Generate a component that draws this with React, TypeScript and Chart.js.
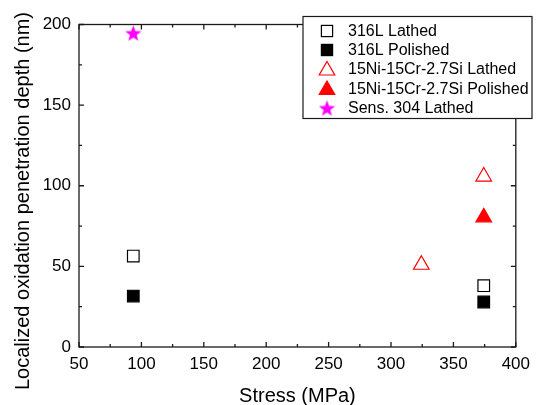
import React, { useEffect, useRef } from "react";
import { Chart, registerables } from "chart.js";
Chart.register(...registerables);

const seriesNames = [
  "316L Lathed",
  "316L Polished",
  "15Ni-15Cr-2.7Si Lathed",
  "15Ni-15Cr-2.7Si Polished",
  "Sens. 304 Lathed",
];
const lathed316X = [93.5, 374.3];
const lathed316Y = [56.4, 38.0];
const polished316X = [93.5, 374.3];
const polished316Y = [31.6, 27.9];
const lathedNiX = [324.3, 374.3];
const lathedNiY = [51.0, 105.7];
const polishedNiX = [374.3];
const polishedNiY = [80.4];
const sens304X = [93.5];
const sens304Y = [194.7];

const xTicks = [50, 100, 150, 200, 250, 300, 350, 400];
const yTicks = [0, 50, 100, 150, 200];
const xTitle = "Stress (MPa)";
const yTitle = "Localized oxidation penetration depth (nm)";

const FONT = "'Liberation Sans', Arial, sans-serif";

function makeStar(size: number, color: string) {
  const c = document.createElement("canvas");
  c.width = size;
  c.height = size;
  const ctx = c.getContext("2d")!;
  const cx = size / 2;
  const cy = size / 2 + size * 0.05;
  const R = size / 2;
  const r = R * 0.42;
  ctx.beginPath();
  for (let i = 0; i < 10; i++) {
    const ang = -Math.PI / 2 + (i * Math.PI) / 5;
    const rad = i % 2 === 0 ? R : r;
    const px = cx + rad * Math.cos(ang);
    const py = cy + rad * Math.sin(ang);
    if (i === 0) ctx.moveTo(px, py);
    else ctx.lineTo(px, py);
  }
  ctx.closePath();
  ctx.fillStyle = color;
  ctx.fill();
  return c;
}

function pts(xs: number[], ys: number[]) {
  return xs.map((x, i) => ({ x, y: ys[i] }));
}

export default function App() {
  const ref = useRef<HTMLCanvasElement>(null);
  useEffect(() => {
    const star = makeStar(17, "#ff00ff");
    const styles = [
      { pointStyle: "rect", backgroundColor: "#ffffff", borderColor: "#000000", pointRadius: 8.2, borderWidth: 1.2 },
      { pointStyle: "rect", backgroundColor: "#000000", borderColor: "#000000", pointRadius: 8.2, borderWidth: 1.2 },
      { pointStyle: "triangle", backgroundColor: "#ffffff", borderColor: "#ff0000", pointRadius: 9, borderWidth: 1.2 },
      { pointStyle: "triangle", backgroundColor: "#ff0000", borderColor: "#ff0000", pointRadius: 9, borderWidth: 1.2 },
      { pointStyle: star as any, backgroundColor: "#ff00ff", borderColor: "#ff00ff", pointRadius: 8.5, borderWidth: 1 },
    ];
    const dataArr = [
      pts(lathed316X, lathed316Y),
      pts(polished316X, polished316Y),
      pts(lathedNiX, lathedNiY),
      pts(polishedNiX, polishedNiY),
      pts(sens304X, sens304Y),
    ];

    const framePlugin = {
      id: "frame",
      afterDatasetsDraw(chart: any) {
        const { ctx, chartArea: a, scales } = chart;
        const xs = scales.x;
        const ys = scales.y;
        ctx.save();
        ctx.strokeStyle = "#1a1a1a";
        ctx.lineWidth = 1.3;
        ctx.strokeRect(a.left, a.top, a.right - a.left, a.bottom - a.top);
        ctx.beginPath();
        for (let v = 50; v <= 400; v += 25) {
          const px = xs.getPixelForValue(v);
          const len = v % 50 === 0 ? 5 : 3;
          ctx.moveTo(px, a.bottom);
          ctx.lineTo(px, a.bottom - len);
          ctx.moveTo(px, a.top);
          ctx.lineTo(px, a.top + len);
        }
        for (let v = 0; v <= 200; v += 25) {
          const py = ys.getPixelForValue(v);
          const len = v % 50 === 0 ? 5 : 3;
          ctx.moveTo(a.left, py);
          ctx.lineTo(a.left + len, py);
          ctx.moveTo(a.right, py);
          ctx.lineTo(a.right - len, py);
        }
        ctx.stroke();
        ctx.restore();
      },
      afterDraw(chart: any) {
        const ctx = chart.ctx;
        const a = chart.chartArea;
        ctx.save();
        // axis titles
        ctx.fillStyle = "#000000";
        ctx.font = `20px ${FONT}`;
        ctx.textAlign = "center";
        ctx.textBaseline = "middle";
        ctx.fillText(xTitle, (a.left + a.right) / 2, 396);
        ctx.save();
        ctx.translate(23, 201);
        ctx.rotate(-Math.PI / 2);
        ctx.fillText(yTitle, 0, 0);
        ctx.restore();

        // legend
        const bx = 303, by = 16.5, bw = 229, bh = 102;
        ctx.fillStyle = "#ffffff";
        ctx.fillRect(bx, by, bw, bh);
        ctx.strokeStyle = "#1a1a1a";
        ctx.lineWidth = 1.2;
        ctx.strokeRect(bx, by, bw, bh);
        const rowY = [31, 50, 69, 88.5, 108];
        const sx = 327;
        styles.forEach((s, i) => {
          const y = rowY[i];
          ctx.save();
          ctx.fillStyle = s.backgroundColor;
          ctx.strokeStyle = s.borderColor;
          ctx.lineWidth = s.borderWidth;
          if (s.pointStyle === "rect") {
            const h = 5.6;
            ctx.fillRect(sx - h, y - h, 2 * h, 2 * h);
            ctx.strokeRect(sx - h, y - h, 2 * h, 2 * h);
          } else if (s.pointStyle === "triangle") {
            const r = 9;
            ctx.beginPath();
            ctx.moveTo(sx, y - r + 1.5);
            ctx.lineTo(sx + r * 0.866, y + r / 2 + 1.5);
            ctx.lineTo(sx - r * 0.866, y + r / 2 + 1.5);
            ctx.closePath();
            ctx.fill();
            ctx.stroke();
          } else {
            ctx.drawImage(star, sx - 8.5, y - 8.5, 17, 17);
          }
          ctx.restore();
          ctx.fillStyle = "#000000";
          ctx.font = `16px ${FONT}`;
          ctx.textBaseline = "middle";
          ctx.textAlign = "left";
          ctx.fillText(seriesNames[i], 348, y + 1);
        });
        ctx.restore();
      },
    };

    const chart = new Chart(ref.current!, {
      type: "scatter",
      data: {
        datasets: seriesNames.map((name, i) => ({
          label: name,
          data: dataArr[i],
          ...styles[i],
          pointHoverRadius: styles[i].pointRadius,
          showLine: false,
        })) as any,
      },
      options: {
        responsive: false,
        animation: false,
        devicePixelRatio: 1,
        layout: { padding: { top: 24.5, right: 18.5, left: 0, bottom: 0 } },
        plugins: { legend: { display: false }, tooltip: { enabled: false } },
        scales: {
          x: {
            type: "linear",
            min: 50,
            max: 400,
            afterFit: (s: any) => { s.height = 58; },
            afterBuildTicks: (s: any) => { s.ticks = xTicks.map((v) => ({ value: v })); },
            grid: { display: false, drawTicks: false },
            border: { display: false },
            ticks: { color: "#000", font: { family: FONT, size: 17 }, padding: 7, maxRotation: 0 },
            title: { display: false },
          },
          y: {
            type: "linear",
            min: 0,
            max: 200,
            afterFit: (s: any) => { s.width = 79; },
            afterBuildTicks: (s: any) => { s.ticks = yTicks.map((v) => ({ value: v })); },
            grid: { display: false, drawTicks: false },
            border: { display: false },
            ticks: { color: "#000", font: { family: FONT, size: 17 }, padding: 8 },
            title: { display: false },
          },
        },
      } as any,
      plugins: [framePlugin],
    });
    return () => chart.destroy();
  }, []);

  return (
    <div style={{ position: "absolute", left: 0, top: 0, width: 537, height: 405, background: "#fff" }}>
      <canvas ref={ref} width={537} height={405} style={{ display: "block" }} />
    </div>
  );
}
